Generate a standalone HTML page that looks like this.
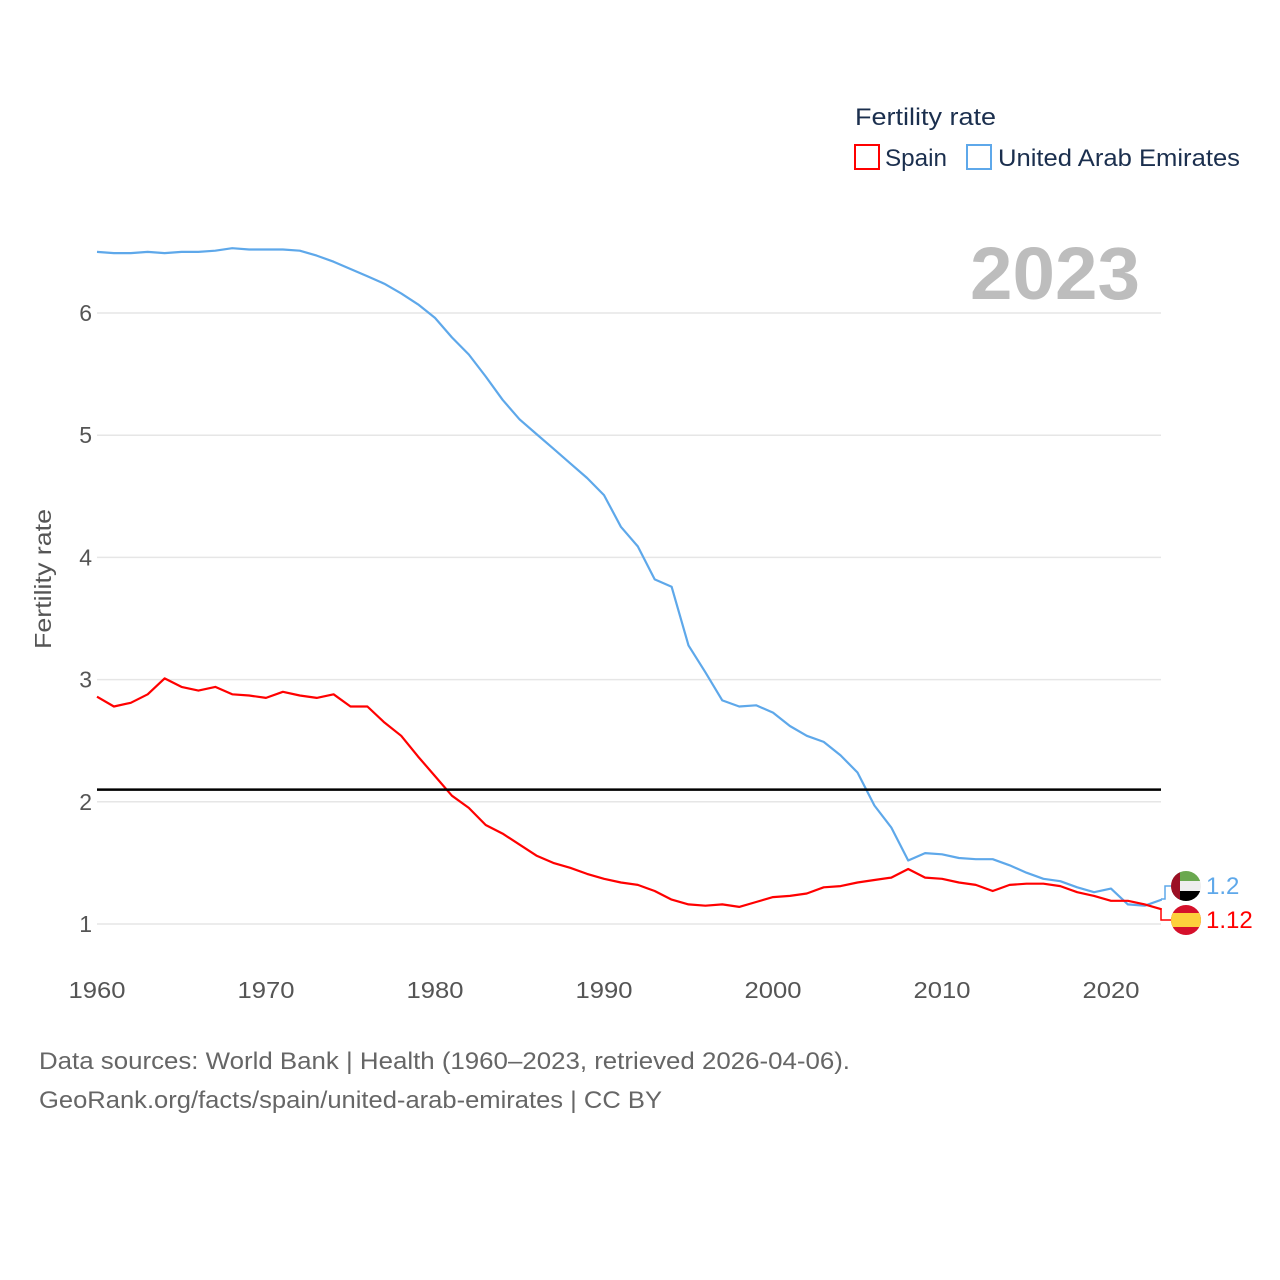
<!DOCTYPE html>
<html><head><meta charset="utf-8">
<style>
html,body{margin:0;padding:0;background:#fff;}
svg{display:block;font-family:"Liberation Sans",sans-serif;}
</style></head>
<body>
<svg id="chart" width="1280" height="1280" viewBox="0 0 1280 1280" xmlns="http://www.w3.org/2000/svg">
  <rect width="1280" height="1280" fill="#fff"/>
  <g id="grid"></g>
  <g id="yticks"></g>
  <g id="xticks"></g>
  <text x="1140" y="299" text-anchor="end" font-size="74" font-weight="bold" fill="#bdbdbd" textLength="170" lengthAdjust="spacingAndGlyphs">2023</text>
  <text transform="translate(51,579) rotate(-90)" text-anchor="middle" font-size="23" fill="#555" textLength="140" lengthAdjust="spacingAndGlyphs">Fertility rate</text>
  <g id="series"></g>
  <line x1="97" x2="1161" y1="789.6" y2="789.6" stroke="#000" stroke-width="2.5"/>
  <g>
    <text x="855" y="125" font-size="24" fill="#1b2f4e" textLength="141" lengthAdjust="spacingAndGlyphs">Fertility rate</text>
    <g>
      <rect x="855" y="145" width="24" height="24" fill="none" stroke="#ff0000" stroke-width="2"/>
      <text x="885" y="166" font-size="24" fill="#1b2f4e" textLength="62" lengthAdjust="spacingAndGlyphs">Spain</text>
    </g>
    <g>
      <rect x="967" y="145" width="24" height="24" fill="none" stroke="#5ea8ea" stroke-width="2"/>
      <text x="998" y="166" font-size="24" fill="#1b2f4e" textLength="242" lengthAdjust="spacingAndGlyphs">United Arab Emirates</text>
    </g>
  </g>
  <g>
    <path d="M1161 899 L1165 899 L1165 886 L1172 886" fill="none" stroke="#5ea8ea" stroke-width="1.5"/>
    <path d="M1161 909 L1161 920 L1172 920" fill="none" stroke="#ff0000" stroke-width="1.5"/>
    <g>
      <clipPath id="c1"><circle cx="1186" cy="886" r="15"/></clipPath>
      <g clip-path="url(#c1)">
        <rect x="1171" y="871" width="30" height="10" fill="#6aa84f"/>
        <rect x="1171" y="881" width="30" height="10" fill="#eee"/>
        <rect x="1171" y="891" width="30" height="10" fill="#000"/>
        <rect x="1171" y="871" width="9" height="30" fill="#9b0f24"/>
      </g>
    </g>
    <g>
      <clipPath id="c2"><circle cx="1186" cy="920" r="15"/></clipPath>
      <g clip-path="url(#c2)">
        <rect x="1171" y="905" width="30" height="30" fill="#d5102b"/>
        <rect x="1171" y="913" width="30" height="14" fill="#fdd03c"/>
      </g>
    </g>
    <text x="1206" y="894" font-size="24" fill="#5ea8ea">1.2</text>
    <text x="1206" y="928" font-size="24" fill="#ff0000">1.12</text>
  </g>
  <text x="39" y="1069" font-size="24" fill="#666" textLength="811" lengthAdjust="spacingAndGlyphs">Data sources: World Bank | Health (1960–2023, retrieved 2026-04-06).</text>
  <text x="39" y="1108" font-size="24" fill="#666" textLength="623" lengthAdjust="spacingAndGlyphs">GeoRank.org/facts/spain/united-arab-emirates | CC BY</text>
</svg>
<script>
const years = [];
for (let y = 1960; y <= 2023; y++) years.push(y);
const spain = [2.86,2.78,2.81,2.88,3.01,2.94,2.91,2.94,2.88,2.87,2.85,2.90,2.87,2.85,2.88,2.78,2.78,2.65,2.54,2.37,2.21,2.05,1.95,1.81,1.74,1.65,1.56,1.50,1.46,1.41,1.37,1.34,1.32,1.27,1.20,1.16,1.15,1.16,1.14,1.18,1.22,1.23,1.25,1.30,1.31,1.34,1.36,1.38,1.45,1.38,1.37,1.34,1.32,1.27,1.32,1.33,1.33,1.31,1.26,1.23,1.19,1.19,1.16,1.12];
const uae = [6.50,6.49,6.49,6.50,6.49,6.50,6.50,6.51,6.53,6.52,6.52,6.52,6.51,6.47,6.42,6.36,6.30,6.24,6.16,6.07,5.96,5.80,5.66,5.48,5.29,5.13,5.01,4.89,4.77,4.65,4.51,4.25,4.09,3.82,3.76,3.28,3.06,2.83,2.78,2.79,2.73,2.62,2.54,2.49,2.38,2.24,1.97,1.79,1.52,1.58,1.57,1.54,1.53,1.53,1.48,1.42,1.37,1.35,1.30,1.26,1.29,1.16,1.15,1.20];
const yTicks = [1,2,3,4,5,6];
const xTicks = [1960,1970,1980,1990,2000,2010,2020];

const NS = "http://www.w3.org/2000/svg";
const xS = y => 97 + (y - 1960) * (1014 / 60);
const yS = v => 924 - (v - 1) * 122.2;

const grid = document.getElementById('grid');
const yt = document.getElementById('yticks');
yTicks.forEach(t => {
  const l = document.createElementNS(NS, 'line');
  
  
  l.setAttribute('x1', 97); l.setAttribute('x2', 1161);
  l.setAttribute('y1', yS(t)); l.setAttribute('y2', yS(t));
  l.setAttribute('stroke', '#e6e6e6'); l.setAttribute('stroke-width', '1.5');
  grid.appendChild(l);
  const tx = document.createElementNS(NS, 'text');
  
  
  tx.setAttribute('x', 92); tx.setAttribute('y', yS(t) + 8);
  tx.setAttribute('text-anchor', 'end'); tx.setAttribute('font-size', '23'); tx.setAttribute('fill', '#555');
  tx.textContent = t;
  yt.appendChild(tx);
});
const xt = document.getElementById('xticks');
xTicks.forEach(t => {
  const tx = document.createElementNS(NS, 'text');
  
  
  tx.setAttribute('x', xS(t)); tx.setAttribute('y', 998);
  tx.setAttribute('text-anchor', 'middle'); tx.setAttribute('font-size', '23'); tx.setAttribute('fill', '#555');
  tx.setAttribute('textLength', '57'); tx.setAttribute('lengthAdjust', 'spacingAndGlyphs');
  tx.textContent = t;
  xt.appendChild(tx);
});
const series = document.getElementById('series');
function drawLine(vals, color, name) {
  const p = document.createElementNS(NS, 'polyline');
  
  
  p.setAttribute('points', vals.map((v, i) => xS(years[i]).toFixed(1) + ',' + yS(v).toFixed(1)).join(' '));
  p.setAttribute('fill', 'none'); p.setAttribute('stroke', color); p.setAttribute('stroke-width', '2.2');
  p.setAttribute('stroke-linejoin', 'round');
  series.appendChild(p);
}
drawLine(uae, '#5ea8ea', 'uae-line');
drawLine(spain, '#ff0000', 'spain-line');
</script>
</body></html>
